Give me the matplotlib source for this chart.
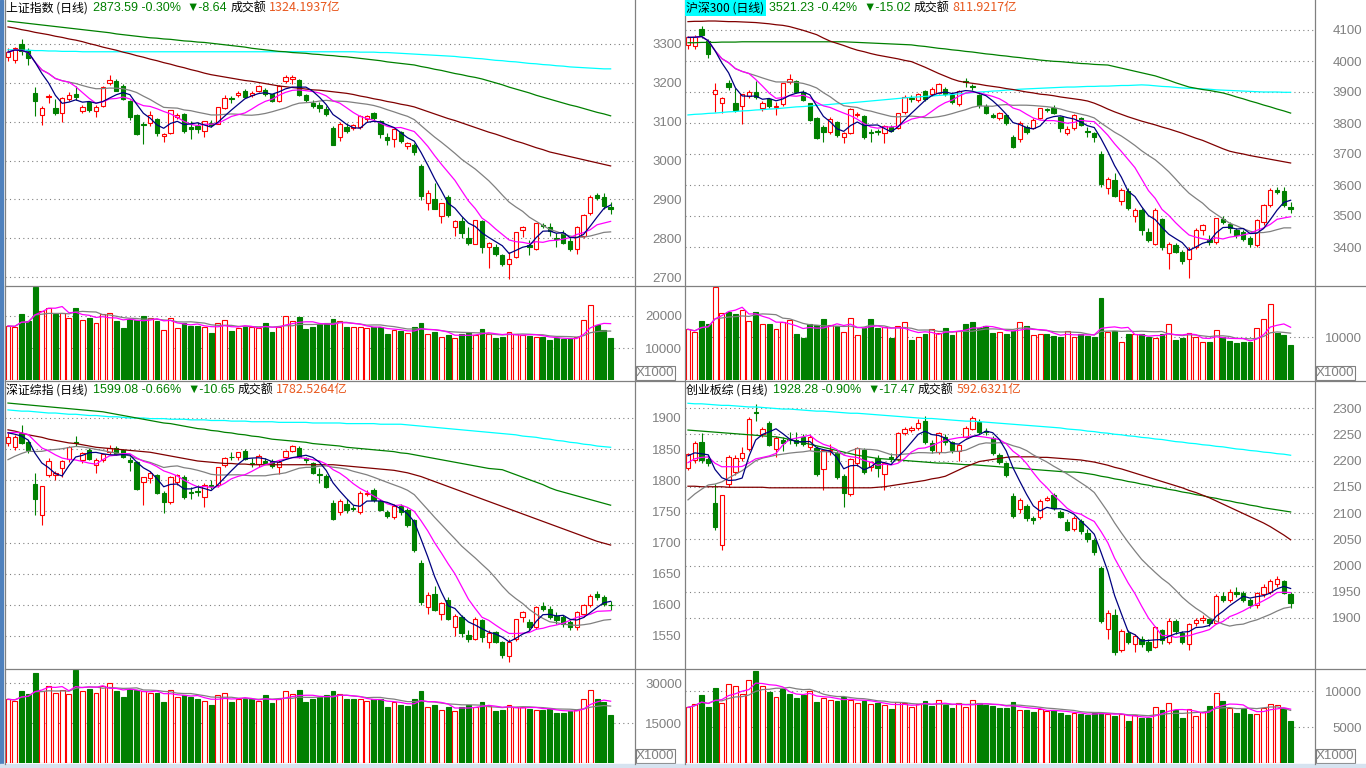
import matplotlib
matplotlib.use("Agg")
import matplotlib.pyplot as plt
import matplotlib.patches as patches
from matplotlib.lines import Line2D
import numpy as np
import pandas as pd

# ---------------- 上证指数 ----------------
sh_ohlc = [
    (3266, 3290, 3255, 3279), (3258, 3293, 3250, 3290), (3300, 3312, 3272, 3281), (3285, 3290, 3245, 3263), (3173, 3190, 3115, 3153),
    (3117, 3140, 3092, 3134), (3163, 3172, 3147, 3167), (3134, 3158, 3118, 3122), (3122, 3163, 3100, 3160), (3158, 3176, 3153, 3169),
    (3172, 3192, 3155, 3163), (3128, 3143, 3122, 3137), (3150, 3152, 3126, 3131), (3127, 3142, 3113, 3138), (3141, 3191, 3137, 3190),
    (3199, 3220, 3195, 3208), (3206, 3210, 3180, 3180), (3193, 3196, 3156, 3159), (3153, 3155, 3105, 3111), (3117, 3120, 3066, 3067),
    (3094, 3100, 3042, 3091), (3096, 3127, 3090, 3117), (3107, 3110, 3062, 3072), (3064, 3070, 3048, 3068), (3070, 3131, 3067, 3129),
    (3112, 3122, 3108, 3118), (3120, 3122, 3070, 3075), (3085, 3102, 3055, 3082), (3090, 3098, 3072, 3081), (3077, 3102, 3061, 3101),
    (3096, 3105, 3085, 3091), (3095, 3137, 3094, 3137), (3135, 3168, 3132, 3162), (3160, 3167, 3147, 3159), (3169, 3178, 3163, 3174),
    (3180, 3184, 3160, 3163), (3168, 3178, 3163, 3174), (3180, 3195, 3176, 3192), (3182, 3186, 3165, 3170), (3170, 3172, 3150, 3154),
    (3153, 3195, 3150, 3193), (3205, 3219, 3200, 3214), (3210, 3221, 3197, 3214), (3207, 3210, 3165, 3169), (3169, 3172, 3150, 3155),
    (3148, 3155, 3135, 3141), (3143, 3150, 3125, 3135), (3133, 3140, 3115, 3120), (3084, 3090, 3040, 3041), (3061, 3100, 3050, 3095),
    (3086, 3096, 3070, 3075), (3084, 3093, 3078, 3091), (3086, 3116, 3082, 3114), (3107, 3118, 3100, 3115), (3122, 3126, 3105, 3110),
    (3102, 3104, 3058, 3067), (3060, 3072, 3040, 3053), (3055, 3082, 3035, 3080), (3073, 3076, 3045, 3050), (3037, 3048, 3030, 3044),
    (3040, 3046, 3015, 3022), (2986, 2990, 2899, 2908), (2890, 2924, 2873, 2916), (2901, 2941, 2875, 2876), (2857, 2890, 2839, 2890),
    (2905, 2911, 2855, 2859), (2829, 2848, 2806, 2845), (2844, 2855, 2800, 2813), (2800, 2828, 2782, 2787), (2786, 2848, 2784, 2847),
    (2844, 2846, 2762, 2776), (2776, 2790, 2724, 2787), (2778, 2785, 2755, 2759), (2757, 2760, 2729, 2734), (2733, 2765, 2694, 2747),
    (2752, 2816, 2750, 2815), (2821, 2831, 2803, 2828), (2782, 2795, 2757, 2778), (2772, 2839, 2770, 2838), (2834, 2840, 2825, 2831),
    (2830, 2840, 2806, 2818), (2801, 2813, 2778, 2798), (2813, 2821, 2786, 2788), (2793, 2800, 2766, 2773), (2772, 2832, 2759, 2829),
    (2806, 2862, 2800, 2860), (2865, 2911, 2860, 2906), (2912, 2917, 2898, 2904), (2906, 2917, 2876, 2882), (2880, 2893, 2863, 2874),
]
sh_prior = []
sh_vol = [
    16875, 16670, 20625, 18440, 29170, 21560, 22400, 20625, 21040, 19375,
    22500, 18750, 19375, 17710, 20625, 20830, 18440, 16350, 18960, 18750,
    20100, 19480, 18440, 15625, 19480, 16150, 17920, 16980, 16980, 16670,
    14790, 17710, 18750, 15310, 16350, 16670, 16670, 16350, 17710, 15100,
    16670, 20100, 18440, 19800, 15940, 16670, 17500, 17710, 19060, 18440,
    16670, 16670, 16560, 16150, 16670, 16670, 14375, 15625, 15300, 14800,
    16500, 17800, 14500, 15000, 13500, 14000, 13000, 14500, 14800, 14000,
    16000, 14500, 13000, 13500, 15000, 14500, 14000, 13800, 13500, 13500,
    12500, 13000, 12800, 13000, 13500, 18750, 23400, 17200, 15600, 13100,
]
sh_ma60 = [
    3344, 3341, 3337, 3334, 3330, 3327, 3324, 3320, 3317, 3313,
    3310, 3306, 3301, 3297, 3292, 3288, 3284, 3279, 3275, 3270,
    3266, 3261, 3257, 3252, 3248, 3243, 3239, 3234, 3230, 3225,
    3221, 3218, 3215, 3212, 3209, 3206, 3204, 3201, 3198, 3195,
    3192, 3190, 3188, 3186, 3184, 3182, 3181, 3179, 3177, 3175,
    3173, 3170, 3166, 3163, 3159, 3156, 3152, 3149, 3145, 3142,
    3138, 3132, 3126, 3120, 3114, 3108, 3103, 3097, 3091, 3085,
    3079, 3073, 3068, 3062, 3056, 3050, 3045, 3039, 3033, 3028,
    3022, 3018, 3014, 3010, 3006, 3002, 2998, 2994, 2990, 2986,
]
sh_ma120 = [
    3359, 3357, 3355, 3353, 3351, 3349, 3347, 3345, 3343, 3341,
    3339, 3337, 3335, 3333, 3331, 3329, 3326, 3324, 3322, 3320,
    3318, 3316, 3315, 3313, 3312, 3310, 3308, 3307, 3305, 3304,
    3302, 3300, 3298, 3296, 3294, 3292, 3289, 3287, 3285, 3283,
    3281, 3280, 3278, 3277, 3276, 3274, 3273, 3271, 3270, 3268,
    3267, 3265, 3263, 3261, 3259, 3257, 3254, 3252, 3250, 3248,
    3246, 3242, 3239, 3235, 3232, 3228, 3224, 3221, 3217, 3214,
    3210, 3205, 3200, 3195, 3189, 3184, 3179, 3174, 3168, 3163,
    3158, 3153, 3148, 3143, 3139, 3134, 3129, 3124, 3120, 3115,
]
sh_ma250 = [
    3285, 3285, 3284, 3284, 3283, 3283, 3282, 3282, 3281, 3281,
    3281, 3280, 3280, 3280, 3280, 3280, 3280, 3280, 3280, 3280,
    3280, 3280, 3280, 3280, 3280, 3280, 3280, 3280, 3280, 3280,
    3280, 3280, 3280, 3280, 3280, 3280, 3280, 3280, 3280, 3280,
    3280, 3280, 3280, 3280, 3280, 3280, 3280, 3280, 3280, 3280,
    3280, 3280, 3279, 3279, 3279, 3278, 3278, 3277, 3276, 3275,
    3274, 3273, 3272, 3271, 3270, 3269, 3268, 3266, 3265, 3263,
    3262, 3260, 3258, 3257, 3255, 3254, 3252, 3250, 3249, 3247,
    3246, 3244, 3243, 3241, 3240, 3239, 3238, 3237, 3236, 3236,
]

# ---------------- 沪深300 ----------------
hs_ohlc = [
    (4052, 4080, 4039, 4076), (4048, 4085, 4040, 4077), (4103, 4113, 4075, 4084), (4066, 4072, 4009, 4023), (3893, 3929, 3836, 3906),
    (3864, 3885, 3832, 3880), (3929, 3940, 3905, 3916), (3864, 3913, 3835, 3842), (3855, 3895, 3797, 3893), (3887, 3905, 3880, 3900),
    (3900, 3936, 3878, 3884), (3848, 3870, 3840, 3864), (3877, 3880, 3850, 3855), (3852, 3868, 3825, 3855), (3861, 3930, 3855, 3929),
    (3932, 3958, 3925, 3942), (3936, 3940, 3898, 3900), (3900, 3905, 3870, 3874), (3864, 3866, 3805, 3810), (3816, 3820, 3750, 3752),
    (3787, 3795, 3740, 3771), (3771, 3820, 3765, 3813), (3803, 3808, 3755, 3761), (3755, 3770, 3735, 3768), (3768, 3848, 3765, 3845),
    (3826, 3835, 3820, 3829), (3823, 3826, 3750, 3755), (3770, 3780, 3740, 3768), (3773, 3782, 3760, 3771), (3768, 3792, 3735, 3790),
    (3787, 3795, 3770, 3774), (3784, 3833, 3780, 3832), (3835, 3890, 3830, 3884), (3880, 3890, 3868, 3877), (3874, 3898, 3868, 3893),
    (3903, 3908, 3870, 3877), (3894, 3915, 3888, 3910), (3897, 3930, 3893, 3926), (3910, 3915, 3888, 3894), (3890, 3893, 3862, 3868),
    (3861, 3905, 3855, 3903), (3934, 3945, 3915, 3932), (3918, 3925, 3905, 3916), (3890, 3895, 3850, 3858), (3855, 3860, 3828, 3832),
    (3826, 3832, 3815, 3820), (3816, 3836, 3810, 3832), (3826, 3830, 3795, 3800), (3755, 3760, 3720, 3723), (3748, 3805, 3740, 3800),
    (3787, 3795, 3765, 3771), (3784, 3815, 3780, 3810), (3816, 3850, 3812, 3848), (3843, 3850, 3835, 3842), (3848, 3858, 3828, 3832),
    (3819, 3822, 3772, 3784), (3768, 3790, 3760, 3781), (3784, 3830, 3778, 3826), (3816, 3820, 3790, 3794), (3774, 3788, 3755, 3771),
    (3768, 3772, 3740, 3755), (3700, 3710, 3595, 3602), (3590, 3625, 3570, 3620), (3615, 3640, 3560, 3565), (3550, 3590, 3535, 3585),
    (3580, 3590, 3520, 3525), (3500, 3525, 3480, 3520), (3520, 3525, 3440, 3455), (3450, 3460, 3415, 3422), (3410, 3525, 3405, 3520),
    (3490, 3495, 3390, 3400), (3380, 3415, 3330, 3410), (3405, 3412, 3380, 3385), (3385, 3390, 3345, 3355), (3360, 3400, 3300, 3395),
    (3400, 3460, 3395, 3455), (3455, 3475, 3440, 3470), (3425, 3440, 3405, 3415), (3415, 3495, 3410, 3492), (3490, 3500, 3475, 3482),
    (3475, 3480, 3445, 3460), (3455, 3460, 3430, 3440), (3450, 3455, 3420, 3425), (3430, 3435, 3400, 3410), (3405, 3490, 3400, 3487),
    (3480, 3540, 3470, 3535), (3535, 3590, 3530, 3585), (3585, 3595, 3570, 3578), (3580, 3592, 3530, 3535), (3530, 3545, 3510, 3521),
]
hs_prior = []
hs_vol = [
    11790, 11090, 13720, 12950, 21560, 15500, 15890, 15350, 16280, 13720,
    15740, 13020, 13020, 11790, 13570, 13950, 10700, 9840, 13020, 12790,
    14190, 12790, 12560, 11090, 14340, 10470, 12020, 14110, 12020, 12250,
    9840, 12560, 13410, 9300, 10080, 10700, 11860, 11000, 12000, 10500,
    11500, 13000, 13500, 12000, 12500, 11000, 11200, 10800, 11500, 13500,
    12500, 10500, 10600, 10800, 10200, 10000, 11500, 10000, 10800, 10200,
    10000, 19000, 11090, 11470, 8910, 10700, 10700, 10700, 9920, 9690,
    10700, 13020, 9300, 9690, 10850, 9920, 8910, 8910, 11630, 9920,
    9070, 8680, 8910, 8910, 12020, 14110, 17600, 11000, 10470, 8140,
]
hs_ma60 = [
    4127, 4128, 4128, 4129, 4129, 4128, 4127, 4127, 4126, 4125,
    4124, 4122, 4120, 4117, 4115, 4111, 4105, 4099, 4092, 4085,
    4074, 4064, 4057, 4050, 4042, 4035, 4030, 4024, 4019, 4015,
    4011, 4007, 4002, 3998, 3989, 3980, 3970, 3960, 3951, 3942,
    3935, 3931, 3928, 3925, 3921, 3918, 3915, 3911, 3908, 3904,
    3900, 3897, 3893, 3891, 3888, 3884, 3881, 3878, 3875, 3871,
    3864, 3855, 3845, 3836, 3828, 3820, 3813, 3806, 3800, 3794,
    3787, 3781, 3774, 3767, 3759, 3751, 3744, 3735, 3726, 3717,
    3709, 3704, 3700, 3695, 3691, 3687, 3683, 3679, 3675, 3671,
]
hs_ma120 = [
    4059, 4059, 4060, 4060, 4060, 4061, 4061, 4061, 4062, 4062,
    4062, 4062, 4062, 4062, 4062, 4062, 4062, 4062, 4062, 4062,
    4062, 4062, 4062, 4062, 4061, 4060, 4059, 4058, 4057, 4056,
    4055, 4054, 4053, 4052, 4049, 4047, 4044, 4041, 4039, 4036,
    4034, 4031, 4029, 4026, 4023, 4021, 4018, 4016, 4013, 4011,
    4008, 4006, 4003, 4001, 3999, 3998, 3996, 3994, 3992, 3991,
    3989, 3988, 3987, 3982, 3977, 3972, 3967, 3962, 3957, 3952,
    3945, 3938, 3930, 3923, 3916, 3912, 3908, 3905, 3901, 3897,
    3891, 3884, 3878, 3871, 3865, 3858, 3852, 3845, 3839, 3832,
]
hs_ma250 = [
    3826, 3828, 3829, 3831, 3832, 3834, 3836, 3837, 3839, 3840,
    3842, 3843, 3845, 3846, 3848, 3850, 3852, 3853, 3855, 3857,
    3858, 3860, 3862, 3863, 3865, 3867, 3869, 3871, 3873, 3875,
    3877, 3879, 3881, 3883, 3884, 3886, 3887, 3889, 3890, 3892,
    3894, 3896, 3898, 3900, 3901, 3903, 3904, 3906, 3907, 3909,
    3910, 3911, 3912, 3913, 3914, 3915, 3916, 3916, 3917, 3918,
    3918, 3919, 3919, 3920, 3921, 3921, 3922, 3923, 3922, 3920,
    3918, 3917, 3915, 3913, 3912, 3911, 3910, 3909, 3907, 3906,
    3905, 3904, 3903, 3902, 3901, 3900, 3900, 3900, 3899, 3899,
]

# ---------------- 深证综指 ----------------
sz_ohlc = [
    (1860, 1876, 1855, 1869), (1853, 1872, 1848, 1869), (1876, 1889, 1858, 1860), (1862, 1865, 1844, 1849), (1794, 1812, 1744, 1770),
    (1744, 1791, 1728, 1791), (1808, 1835, 1805, 1831), (1808, 1815, 1800, 1812), (1820, 1833, 1806, 1831), (1834, 1855, 1830, 1853),
    (1862, 1871, 1855, 1860), (1833, 1846, 1828, 1844), (1849, 1852, 1832, 1834), (1825, 1836, 1812, 1833), (1833, 1843, 1830, 1842),
    (1845, 1856, 1842, 1852), (1852, 1855, 1840, 1842), (1849, 1851, 1835, 1837), (1832, 1838, 1815, 1830), (1829, 1831, 1784, 1786),
    (1797, 1805, 1760, 1805), (1804, 1815, 1795, 1812), (1808, 1810, 1778, 1780), (1780, 1783, 1748, 1765), (1765, 1807, 1762, 1805),
    (1797, 1810, 1793, 1808), (1805, 1808, 1770, 1773), (1781, 1790, 1770, 1780), (1783, 1792, 1774, 1781), (1773, 1795, 1757, 1792),
    (1792, 1800, 1786, 1791), (1792, 1822, 1790, 1821), (1825, 1838, 1822, 1836), (1838, 1845, 1832, 1837), (1837, 1846, 1833, 1845),
    (1847, 1850, 1832, 1834), (1828, 1835, 1822, 1826), (1826, 1842, 1822, 1839), (1831, 1835, 1826, 1828), (1831, 1834, 1820, 1823),
    (1821, 1832, 1810, 1829), (1837, 1848, 1834, 1847), (1847, 1857, 1845, 1855), (1852, 1855, 1835, 1837), (1835, 1838, 1828, 1833),
    (1828, 1830, 1810, 1812), (1810, 1820, 1796, 1808), (1807, 1810, 1787, 1789), (1764, 1768, 1736, 1738), (1749, 1770, 1745, 1767),
    (1762, 1770, 1748, 1752), (1756, 1760, 1750, 1754), (1749, 1782, 1746, 1780), (1778, 1784, 1774, 1780), (1784, 1788, 1765, 1768),
    (1767, 1770, 1750, 1752), (1749, 1752, 1740, 1743), (1741, 1762, 1738, 1759), (1759, 1762, 1745, 1749), (1752, 1755, 1725, 1728),
    (1736, 1738, 1685, 1688), (1668, 1672, 1600, 1604), (1596, 1620, 1585, 1616), (1618, 1630, 1590, 1592), (1585, 1605, 1575, 1603),
    (1608, 1612, 1575, 1578), (1565, 1585, 1550, 1582), (1580, 1584, 1548, 1555), (1552, 1560, 1540, 1545), (1545, 1580, 1543, 1578),
    (1575, 1577, 1540, 1548), (1540, 1560, 1530, 1555), (1556, 1558, 1538, 1540), (1540, 1542, 1515, 1520), (1518, 1545, 1508, 1540),
    (1545, 1578, 1542, 1577), (1580, 1590, 1572, 1588), (1572, 1578, 1560, 1565), (1565, 1598, 1562, 1597), (1598, 1605, 1590, 1594),
    (1594, 1598, 1578, 1580), (1582, 1588, 1570, 1575), (1580, 1584, 1565, 1570), (1572, 1576, 1560, 1565), (1565, 1590, 1560, 1588),
    (1585, 1602, 1580, 1600), (1600, 1618, 1597, 1615), (1618, 1622, 1608, 1612), (1612, 1616, 1598, 1602), (1600, 1606, 1592, 1599),
]
# closes of the 19 sessions before the window, estimated from where the MA lines start
sz_prior = [1760, 1770, 1775, 1780, 1785, 1790, 1795, 1805, 1815, 1825,
            1860, 1870, 1875, 1880, 1895, 1880, 1875, 1882, 1875]
sz_vol = [
    24000, 23500, 27000, 26000, 33800, 27000, 29000, 26500, 27500, 26000,
    34900, 27000, 28000, 26500, 29000, 30000, 27000, 25000, 28000, 27500,
    27000, 26500, 26500, 23000, 27500, 25000, 25500, 25000, 24000, 23500,
    22000, 25500, 26500, 23000, 24000, 24000, 24000, 23500, 25500, 22500,
    24000, 27000, 26000, 27500, 23000, 24000, 25000, 25500, 27000, 26000,
    24000, 24000, 24000, 23500, 24000, 24000, 21000, 23000, 22000, 21500,
    24000, 27000, 21000, 22000, 20000, 21000, 19500, 21000, 22000, 21000,
    23000, 21500, 19500, 20000, 22000, 21000, 21000, 20500, 20000, 20000,
    20500, 19000, 19000, 19500, 20000, 24000, 27500, 24000, 22900, 17900,
]
sz_ma60 = [
    1881, 1879, 1876, 1873, 1871, 1869, 1866, 1864, 1862, 1860,
    1859, 1857, 1855, 1853, 1852, 1851, 1850, 1849, 1848, 1847,
    1846, 1845, 1843, 1841, 1839, 1837, 1835, 1833, 1831, 1830,
    1829, 1828, 1827, 1827, 1826, 1826, 1825, 1825, 1825, 1825,
    1825, 1825, 1825, 1825, 1825, 1825, 1825, 1825, 1825, 1824,
    1823, 1822, 1821, 1820, 1819, 1818, 1817, 1816, 1814, 1812,
    1809, 1806, 1802, 1798, 1794, 1790, 1786, 1782, 1778, 1774,
    1770, 1766, 1762, 1758, 1754, 1750, 1746, 1742, 1738, 1734,
    1730, 1726, 1722, 1718, 1714, 1710, 1706, 1702, 1699, 1696,
]
sz_ma120 = [
    1924, 1923, 1922, 1921, 1920, 1919, 1918, 1917, 1916, 1915,
    1914, 1913, 1912, 1911, 1910, 1908, 1906, 1904, 1902, 1900,
    1898, 1896, 1894, 1892, 1891, 1889, 1887, 1885, 1883, 1882,
    1880, 1879, 1877, 1876, 1874, 1873, 1871, 1870, 1868, 1866,
    1865, 1864, 1863, 1862, 1861, 1859, 1858, 1857, 1856, 1855,
    1853, 1852, 1851, 1850, 1849, 1848, 1847, 1846, 1844, 1843,
    1841, 1839, 1837, 1835, 1833, 1831, 1829, 1827, 1825, 1823,
    1821, 1819, 1818, 1817, 1813, 1809, 1805, 1801, 1797, 1793,
    1788, 1784, 1781, 1778, 1775, 1772, 1769, 1766, 1763, 1760,
]
sz_ma250 = [
    1913, 1912, 1911, 1911, 1910, 1909, 1908, 1908, 1907, 1906,
    1906, 1905, 1904, 1904, 1903, 1902, 1902, 1901, 1900, 1900,
    1900, 1899, 1899, 1899, 1898, 1898, 1898, 1897, 1897, 1897,
    1896, 1896, 1896, 1895, 1895, 1895, 1894, 1894, 1894, 1894,
    1893, 1893, 1893, 1893, 1893, 1892, 1892, 1892, 1892, 1892,
    1891, 1891, 1891, 1891, 1891, 1890, 1890, 1890, 1890, 1889,
    1888, 1887, 1886, 1885, 1884, 1883, 1882, 1881, 1880, 1879,
    1878, 1877, 1876, 1875, 1874, 1873, 1871, 1870, 1869, 1867,
    1866, 1864, 1863, 1861, 1860, 1858, 1857, 1855, 1854, 1853,
]

# ---------------- 创业板综 ----------------
cy_ohlc = [
    (2186, 2215, 2182, 2212), (2201, 2238, 2195, 2233), (2235, 2252, 2195, 2201), (2203, 2210, 2190, 2195), (2119, 2155, 2068, 2073),
    (2039, 2134, 2030, 2134), (2155, 2210, 2150, 2207), (2178, 2210, 2172, 2205), (2205, 2225, 2200, 2214), (2222, 2282, 2218, 2279),
    (2292, 2308, 2275, 2290), (2250, 2263, 2245, 2260), (2271, 2275, 2228, 2230), (2222, 2246, 2207, 2243), (2239, 2245, 2218, 2233),
    (2241, 2255, 2232, 2239), (2239, 2254, 2228, 2233), (2245, 2250, 2228, 2231), (2226, 2248, 2220, 2245), (2224, 2228, 2170, 2174),
    (2184, 2222, 2144, 2220), (2218, 2232, 2210, 2220), (2214, 2218, 2165, 2169), (2170, 2175, 2111, 2138), (2136, 2205, 2132, 2203),
    (2195, 2226, 2190, 2224), (2220, 2224, 2175, 2178), (2188, 2200, 2180, 2197), (2205, 2210, 2169, 2186), (2174, 2198, 2144, 2195),
    (2207, 2214, 2198, 2205), (2203, 2254, 2200, 2252), (2252, 2263, 2248, 2260), (2258, 2266, 2254, 2261), (2262, 2280, 2258, 2271),
    (2275, 2285, 2232, 2235), (2233, 2240, 2215, 2220), (2216, 2255, 2212, 2252), (2245, 2250, 2230, 2235), (2235, 2238, 2215, 2220),
    (2218, 2232, 2200, 2229), (2245, 2265, 2242, 2262), (2260, 2285, 2258, 2281), (2273, 2280, 2250, 2254), (2256, 2262, 2248, 2254),
    (2243, 2246, 2210, 2214), (2210, 2215, 2194, 2197), (2195, 2198, 2168, 2172), (2132, 2138, 2090, 2094), (2108, 2128, 2100, 2125),
    (2113, 2118, 2085, 2090), (2090, 2095, 2080, 2087), (2092, 2126, 2088, 2123), (2125, 2132, 2122, 2129), (2134, 2138, 2105, 2110),
    (2102, 2106, 2090, 2092), (2083, 2088, 2065, 2068), (2070, 2095, 2065, 2090), (2085, 2088, 2060, 2065), (2062, 2070, 2045, 2050),
    (2048, 2052, 2020, 2025), (1995, 2000, 1890, 1895), (1880, 1915, 1860, 1910), (1905, 1918, 1830, 1835), (1840, 1880, 1835, 1876),
    (1872, 1878, 1850, 1855), (1850, 1870, 1835, 1865), (1860, 1865, 1845, 1850), (1855, 1860, 1835, 1840), (1845, 1885, 1842, 1882),
    (1878, 1880, 1850, 1858), (1855, 1900, 1850, 1895), (1895, 1898, 1870, 1875), (1872, 1875, 1850, 1855), (1850, 1890, 1840, 1888),
    (1890, 1900, 1885, 1896), (1896, 1905, 1890, 1900), (1898, 1900, 1885, 1890), (1890, 1945, 1888, 1942), (1942, 1950, 1930, 1935),
    (1935, 1955, 1930, 1950), (1950, 1960, 1940, 1945), (1948, 1952, 1930, 1935), (1935, 1938, 1920, 1925), (1925, 1950, 1920, 1948),
    (1945, 1965, 1940, 1960), (1950, 1975, 1945, 1970), (1965, 1980, 1960, 1975), (1970, 1972, 1945, 1948), (1945, 1950, 1920, 1928),
]
cy_prior = [2010, 2020, 2030, 2040, 2050, 2060, 2065, 2075, 2090, 2100,
            2160, 2175, 2185, 2195, 2200, 2205, 2210, 2205, 2213]
cy_vol = [
    7730, 8190, 9440, 7730, 10370, 8290, 10970, 10690, 9540, 11490,
    12780, 10690, 9860, 9170, 10320, 9540, 9000, 9500, 10000, 8500,
    9000, 8700, 8600, 9200, 8800, 8400, 8600, 8200, 8400, 8000,
    7500, 8500, 8300, 7800, 8200, 8600, 7900, 8800, 8000, 7600,
    8300, 7800, 8700, 8400, 8000, 7900, 7600, 7700, 8500, 7400,
    7300, 7100, 7500, 7200, 7400, 7000, 6700, 6900, 6800, 6600,
    7000, 6990, 6800, 6530, 6800, 5870, 6670, 6200, 6200, 7780,
    7360, 8380, 7320, 6300, 7460, 6530, 7130, 7920, 9680, 8610,
    7600, 6990, 7460, 6800, 6800, 7680, 8240, 8060, 7600, 5830,
]
cy_ma60 = [
    2151, 2151, 2150, 2150, 2150, 2150, 2149, 2149, 2149, 2149,
    2149, 2149, 2148, 2148, 2148, 2148, 2148, 2148, 2148, 2148,
    2148, 2148, 2148, 2148, 2148, 2148, 2148, 2148, 2149, 2150,
    2152, 2154, 2156, 2158, 2160, 2162, 2165, 2167, 2170, 2176,
    2182, 2188, 2193, 2198, 2200, 2202, 2204, 2206, 2207, 2207,
    2207, 2207, 2206, 2206, 2205, 2204, 2203, 2202, 2201, 2199,
    2197, 2194, 2191, 2187, 2184, 2180, 2176, 2172, 2168, 2164,
    2160, 2156, 2152, 2148, 2143, 2139, 2134, 2129, 2123, 2117,
    2111, 2105, 2099, 2093, 2087, 2081, 2074, 2066, 2058, 2049,
]
cy_ma120 = [
    2258, 2257, 2256, 2255, 2254, 2253, 2252, 2251, 2250, 2249,
    2248, 2247, 2246, 2245, 2243, 2240, 2237, 2234, 2231, 2228,
    2225, 2222, 2219, 2216, 2213, 2210, 2208, 2206, 2204, 2203,
    2202, 2201, 2200, 2199, 2198, 2197, 2196, 2195, 2195, 2194,
    2193, 2192, 2192, 2191, 2190, 2189, 2188, 2187, 2186, 2185,
    2184, 2183, 2182, 2181, 2180, 2179, 2178, 2178, 2177, 2175,
    2173, 2170, 2168, 2165, 2163, 2160, 2158, 2155, 2153, 2150,
    2148, 2145, 2143, 2140, 2138, 2135, 2133, 2130, 2128, 2125,
    2123, 2120, 2118, 2115, 2113, 2110, 2108, 2106, 2104, 2102,
]
cy_ma250 = [
    2309, 2308, 2308, 2307, 2306, 2305, 2305, 2304, 2303, 2302,
    2302, 2301, 2300, 2299, 2298, 2298, 2297, 2296, 2295, 2294,
    2294, 2293, 2292, 2291, 2290, 2290, 2289, 2288, 2287, 2286,
    2285, 2284, 2283, 2282, 2281, 2280, 2280, 2279, 2278, 2277,
    2276, 2275, 2275, 2274, 2273, 2272, 2271, 2270, 2269, 2268,
    2267, 2266, 2265, 2264, 2263, 2262, 2260, 2259, 2258, 2256,
    2255, 2253, 2252, 2250, 2249, 2247, 2246, 2244, 2243, 2241,
    2240, 2238, 2236, 2235, 2233, 2232, 2230, 2229, 2227, 2226,
    2224, 2222, 2221, 2219, 2218, 2216, 2215, 2213, 2212, 2210,
]

# titles and ticks
sh_title = ["上证指数 (日线)", "2873.59 -0.30%", "▼-8.64", "成交额", "1324.1937亿"]
hs_title = ["沪深300 (日线)", "3521.23 -0.42%", "▼-15.02", "成交额", "811.9217亿"]
sz_title = ["深证综指 (日线)", "1599.08 -0.66%", "▼-10.65", "成交额", "1782.5264亿"]
cy_title = ["创业板综 (日线)", "1928.28 -0.90%", "▼-17.47", "成交额", "592.6321亿"]

sh_ticks = [2700, 2800, 2900, 3000, 3100, 3200, 3300]
hs_ticks = [3400, 3500, 3600, 3700, 3800, 3900, 4000, 4100]
sz_ticks = [1550, 1600, 1650, 1700, 1750, 1800, 1850, 1900]
cy_ticks = [1900, 1950, 2000, 2050, 2100, 2150, 2200, 2250, 2300]
sh_vticks = [10000, 20000]
hs_vticks = [10000]
sz_vticks = [15000, 30000]
cy_vticks = [5000, 10000]

# ---------------- drawing ----------------
W, H = 1366, 768
RED, GREEN = "#FF0000", "#008000"
GRID = "#808080"
CJK = ["Noto Sans CJK SC", "DejaVu Sans"]
plt.rcParams["font.family"] = ["Liberation Sans", "DejaVu Sans"]

fig = plt.figure(figsize=(W / 100, H / 100), dpi=100)
fig.patch.set_facecolor("white")


def rect(x0, y0, x1, y1):
    return [x0 / W, 1 - y1 / H, (x1 - x0) / W, (y1 - y0) / H]


def lim(ref, top, bot):
    (v1, y1), (v2, y2) = ref
    k = (v1 - v2) / (y2 - y1)
    return v1 - (bot - y1) * k, v1 + (y1 - top) * k


def style(ax, ticks, ylim):
    ax.set_xlim(-0.44, 92.6)
    ax.set_ylim(*ylim)
    ax.set_xticks([])
    ax.set_yticks(ticks)
    ax.yaxis.tick_right()
    ax.tick_params(axis="y", length=0, pad=47 * 0.72, labelsize=9.5, labelcolor="#808080")
    for t in ax.get_yticklabels():
        t.set_horizontalalignment("right")
    ax.grid(axis="y", color=GRID, linestyle=(0, (1, 3)), linewidth=0.8)
    ax.set_axisbelow(True)
    for s in ax.spines.values():
        s.set_visible(False)
    ax.patch.set_alpha(0)


def panel(x0, y0, ohlc, prior, vol, ma60, ma120, ma250, ticks, pref, vticks, vref, title, hilite=False):
    o, h, l, c = [np.array(v, float) for v in zip(*ohlc)]
    x = np.arange(len(c))
    up = c >= o
    cols = np.where(up, RED, GREEN)
    faces = np.where(up, "white", GREEN)

    bot = y0 + 285 + (1 if y0 else 0)
    axp = fig.add_axes(rect(x0, y0, x0 + 630, bot))
    style(axp, ticks, lim(pref, y0, bot))
    span = axp.get_ylim()[1] - axp.get_ylim()[0]
    axp.vlines(x, l, h, colors=cols, linewidth=0.8, zorder=2)
    axp.bar(x, np.maximum(np.abs(c - o), span * 0.002), 0.64, np.minimum(o, c),
            color=faces, edgecolor=cols, linewidth=0.8, zorder=3)
    # short averages from the closes (with earlier sessions where the lines start off the candles)
    cs = pd.Series(list(prior) + list(c), dtype=float)
    n = len(prior)
    axp.plot(x, ma250, color="#00FFFF", lw=0.9, zorder=4)
    axp.plot(x, ma120, color="#008000", lw=0.9, zorder=4)
    axp.plot(x, ma60, color="#800000", lw=0.9, zorder=4)
    axp.plot(x, cs.rolling(20, min_periods=1).mean()[n:], color="#808080", lw=0.9, zorder=4)
    axp.plot(x, cs.rolling(10, min_periods=1).mean()[n:], color="#FF00FF", lw=0.9, zorder=4)
    axp.plot(x, cs.rolling(5, min_periods=1).mean()[n:], color="#000080", lw=0.9, zorder=4)

    vt, vb = (286, 380) if y0 == 0 else (669, 763)
    axv = fig.add_axes(rect(x0, vt, x0 + 630, vb))
    style(axv, vticks, lim(vref, vt, vb))
    axv.set_ylim(0, axv.get_ylim()[1])
    vs = pd.Series(vol, dtype=float)
    axv.bar(x, vs, 0.72, color=faces, edgecolor=cols, linewidth=0.8, zorder=3)
    axv.plot(x, vs.rolling(10, min_periods=1).mean(), color="#808080", lw=0.9, zorder=4)
    axv.plot(x, vs.rolling(5, min_periods=1).mean(), color="#FF00FF", lw=0.9, zorder=4)

    # X1000 box
    bx = x0 + 630
    fig.add_artist(patches.Rectangle(((bx + 1) / W, 1 - vb / H), 39 / W, 14 / H,
                                     transform=fig.transFigure, fill=False, edgecolor="#808080", lw=0.8))
    fig.text((bx + 20) / W, 1 - (vb - 7) / H, "X1000", color="#808080", fontsize=9.5, ha="center", va="center")

    # title pieces, laid out one after another
    r = fig.canvas.get_renderer()
    tx = x0 + 1
    ty = 1 - (y0 + 8) / H
    colors = ["black", GREEN, GREEN, "black", "#E8581E"]
    gaps = [5, 6, 3, 3, 0]
    for i, (s, col) in enumerate(zip(title, colors)):
        kw = {}
        if i == 0 and hilite:
            kw["bbox"] = dict(boxstyle="square,pad=0.12", fc="#00FFFF", ec="none")
        t = fig.text(tx / W, ty, s, color=col, fontsize=8.6 if i in (0, 3) else 9,
                     family=CJK if i in (0, 3, 4) else None,
                     ha="left", va="center", zorder=10, **kw)
        tx = t.get_window_extent(r).x1 + gaps[i]


panel(5, 0, sh_ohlc, sh_prior, sh_vol, sh_ma60, sh_ma120, sh_ma250, sh_ticks, ((3300, 44), (2700, 277)),
      sh_vticks, ((20000, 316), (10000, 348)), sh_title)
panel(685, 0, hs_ohlc, hs_prior, hs_vol, hs_ma60, hs_ma120, hs_ma250, hs_ticks, ((4100, 30), (3400, 247)),
      hs_vticks, ((10000, 337), (0, 380)), hs_title, hilite=True)
panel(5, 382, sz_ohlc, sz_prior, sz_vol, sz_ma60, sz_ma120, sz_ma250, sz_ticks, ((1900, 418), (1550, 636)),
      sz_vticks, ((30000, 683), (15000, 722)), sz_title)
panel(685, 382, cy_ohlc, cy_prior, cy_vol, cy_ma60, cy_ma120, cy_ma250, cy_ticks, ((2300, 408), (1900, 618)),
      cy_vticks, ((10000, 691), (5000, 727)), cy_title)


# frame lines
def hline(y, x0=0, x1=W):
    fig.add_artist(Line2D([x0 / W, x1 / W], [1 - y / H] * 2, color="#808080", lw=0.9))


def vline(x, y0=0, y1=H):
    fig.add_artist(Line2D([x / W] * 2, [1 - y0 / H, 1 - y1 / H], color="#808080", lw=0.9))


for yy in (285.5, 381, 668.5):
    hline(yy, 5)
for xx in (5, 635, 685, 1315):
    vline(xx, 0, 764)
fig.add_artist(patches.Rectangle((0, 0), 3 / W, 1, transform=fig.transFigure, color="#4F81BD"))
fig.add_artist(patches.Rectangle((0, 0), 1, 4 / H, transform=fig.transFigure, color="#D6E3F0"))

fig.savefig("out.png", dpi=100)
